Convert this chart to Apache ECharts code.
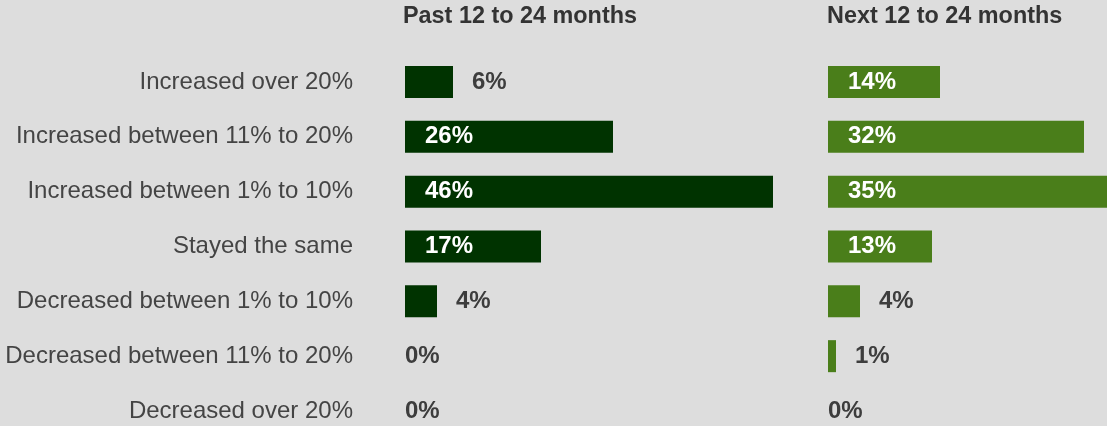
<!DOCTYPE html>
<html>
<head>
<meta charset="utf-8">
<script src="https://cdn.jsdelivr.net/npm/echarts@6/dist/echarts.min.js"></script>
<style>
html,body{margin:0;padding:0;background:#dddddd;}
#c{width:1107px;height:426px;}
</style>
</head>
<body>
<div id="c"></div>
<script>
var categories = [
  'Increased over 20%',
  'Increased between 11% to 20%',
  'Increased between 1% to 10%',
  'Stayed the same',
  'Decreased between 1% to 10%',
  'Decreased between 11% to 20%',
  'Decreased over 20%'
];
var panelTitles = ['Past 12 to 24 months', 'Next 12 to 24 months'];
var pastValues = [6, 26, 46, 17, 4, 0, 0];
var nextValues = [14, 32, 35, 13, 4, 1, 0];

var FONT = '"Liberation Sans", Arial, Helvetica, sans-serif';

function itemsFor(vals) {
  return vals.map(function (v) {
    var label;
    if (v >= 10) {
      label = { position: 'insideLeft', distance: 20, color: '#ffffff' };
    } else if (v > 0) {
      label = { position: 'right', distance: 19, color: '#3d3d3d' };
    } else {
      label = { position: 'right', distance: 0, color: '#3d3d3d' };
    }
    return { value: v, label: label };
  });
}

var chart = echarts.init(document.getElementById('c'), null, { renderer: 'canvas' });
var gridTop = 82, gridH = 329;
var option = {
  backgroundColor: '#dddddd',
  animation: false,
  title: [
    { text: panelTitles[0], left: 398, top: 0, textStyle: { fontFamily: FONT, fontSize: 23.4, fontWeight: 'bold', color: '#333333' } },
    { text: panelTitles[1], left: 822, top: 0, textStyle: { fontFamily: FONT, fontSize: 23.4, fontWeight: 'bold', color: '#333333' } }
  ],
  grid: [
    { left: 405, top: gridTop, width: 400, height: gridH, containLabel: false },
    { left: 828, top: gridTop, width: 279, height: gridH, containLabel: false }
  ],
  xAxis: [
    { gridIndex: 0, type: 'value', min: 0, max: 50, show: false },
    { gridIndex: 1, type: 'value', min: 0, max: 34.875, show: false }
  ],
  yAxis: [
    { gridIndex: 0, type: 'category', data: categories, inverse: true, boundaryGap: false,
      axisLine: { show: false }, axisTick: { show: false }, splitLine: { show: false },
      axisLabel: { margin: 52, fontFamily: FONT, fontSize: 24, color: '#444444' } },
    { gridIndex: 1, type: 'category', data: categories, inverse: true, boundaryGap: false, show: false }
  ],
  series: [
    { type: 'bar', xAxisIndex: 0, yAxisIndex: 0, data: itemsFor(pastValues), barWidth: 32, clip: false,
      itemStyle: { color: '#003300' },
      label: { show: true, formatter: '{c}%', fontFamily: FONT, fontSize: 24, fontWeight: 'bold' } },
    { type: 'bar', xAxisIndex: 1, yAxisIndex: 1, data: itemsFor(nextValues), barWidth: 32, clip: false,
      itemStyle: { color: '#4a7e1a' },
      label: { show: true, formatter: '{c}%', fontFamily: FONT, fontSize: 24, fontWeight: 'bold' } }
  ]
};
chart.setOption(option);
</script>
</body>
</html>
